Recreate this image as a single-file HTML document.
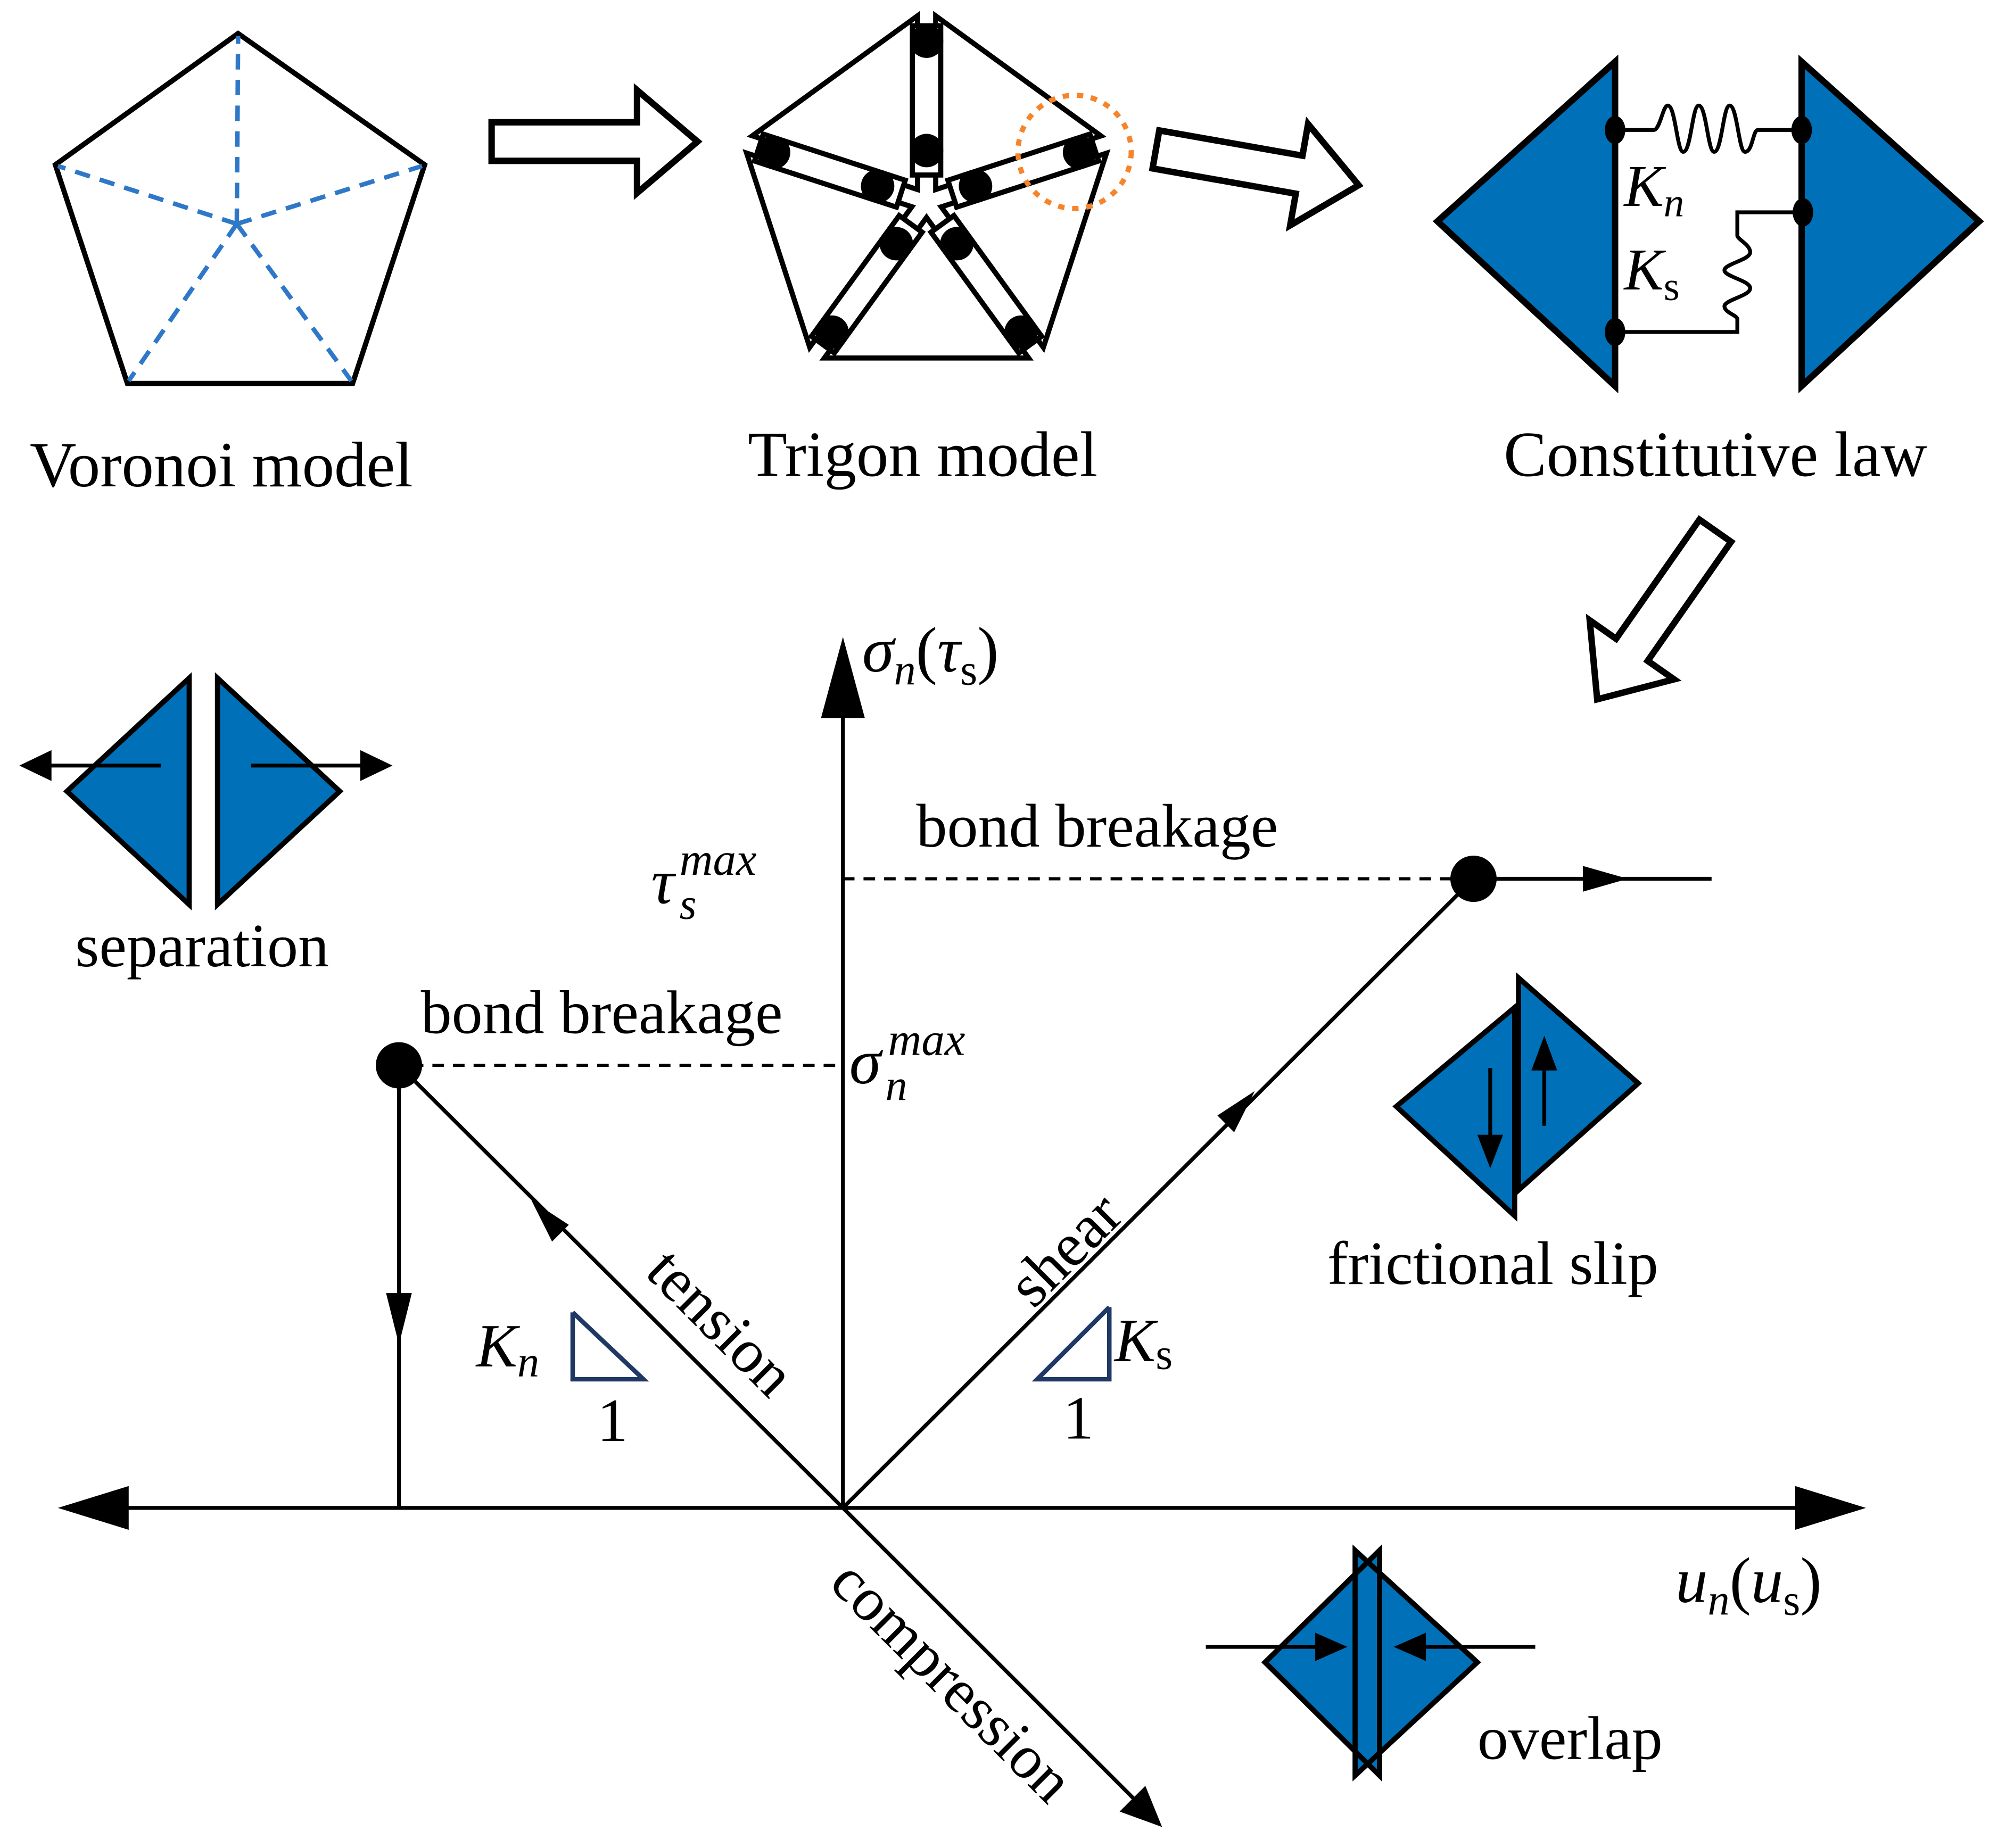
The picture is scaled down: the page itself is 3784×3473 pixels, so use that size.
<!DOCTYPE html>
<html><head><meta charset="utf-8"><style>html,body{margin:0;padding:0;background:#fff}svg{display:block}text{font-family:"Liberation Serif",serif}.i{font-style:italic}</style></head><body>
<svg width="3784" height="3473" viewBox="0 0 1565 1436.3" xmlns="http://www.w3.org/2000/svg">
<defs>
<polygon id="ba" points="-80,-15 33,-15 33,-40 80,0 33,40 33,15 -80,15" fill="#fff" stroke="#000" stroke-width="5" stroke-linejoin="miter"/>
<g id="spoke"><polygon points="725.1,155.3 725.1,20.3 853.5,113.6" fill="#fff" stroke="#000" stroke-width="4"/></g>
<g id="bar"><rect x="707" y="28" width="22" height="116" fill="#fff" stroke="#000" stroke-width="4"/><circle cx="718" cy="40" r="13"/><circle cx="718" cy="125" r="13"/></g>
</defs>
<!-- Voronoi -->
<polygon points="185,26 330,128 274,298 99,298 43,128" fill="none" stroke="#000" stroke-width="4"/>
<g stroke="#2f78c8" stroke-width="3.5" stroke-dasharray="12,8" fill="none">
<line x1="184" y1="174" x2="185" y2="28"/><line x1="184" y1="174" x2="328" y2="129"/><line x1="184" y1="174" x2="273" y2="296"/><line x1="184" y1="174" x2="100" y2="296"/><line x1="184" y1="174" x2="45" y2="129"/></g>
<text x="172" y="378" font-size="50" text-anchor="middle">Voronoi model</text>
<use href="#ba" transform="translate(462,110)"/>
<!-- Trigon -->
<g transform="translate(2,-8)">
<use href="#spoke"/><use href="#spoke" transform="rotate(72 718 165)"/><use href="#spoke" transform="rotate(144 718 165)"/><use href="#spoke" transform="rotate(216 718 165)"/><use href="#spoke" transform="rotate(288 718 165)"/>
<use href="#bar"/><use href="#bar" transform="rotate(72 718 165)"/><use href="#bar" transform="rotate(144 718 165)"/><use href="#bar" transform="rotate(216 718 165)"/><use href="#bar" transform="rotate(288 718 165)"/>
</g>
<circle cx="835" cy="118" r="44" fill="none" stroke="#f5842a" stroke-width="4" stroke-dasharray="5,6"/>
<text x="717" y="370" font-size="50" text-anchor="middle">Trigon model</text>
<use href="#ba" transform="translate(977,130) rotate(10)"/>
<!-- Constitutive -->
<polygon points="1255,48 1255,300 1117,172" fill="#0071b8" stroke="#000" stroke-width="5"/>
<polygon points="1400,48 1400,300 1538,172" fill="#0071b8" stroke="#000" stroke-width="5"/>
<path d="M1255,101 H1285 C1290,101 1292,82 1296,82 C1302,82 1303,118 1308,118 C1314,118 1315,82 1320,82 C1326,82 1327,118 1332,118 C1338,118 1339,82 1344,82 C1350,82 1351,118 1356,118 C1362,118 1362,101 1366,101 H1400" fill="none" stroke="#000" stroke-width="3"/>
<path d="M1400,165 H1350 V183 C1350,186 1360,190 1360,196 C1360,202 1340,205 1340,210 C1340,215 1360,218 1360,224 C1360,230 1340,233 1340,238 C1340,243 1350,245 1350,248 V258 H1255" fill="none" stroke="#000" stroke-width="3"/>
<ellipse cx="1255" cy="101" rx="8" ry="11"/><ellipse cx="1400" cy="101" rx="8" ry="11"/><ellipse cx="1401" cy="165" rx="8" ry="11"/><ellipse cx="1255" cy="258" rx="8" ry="11"/>
<text x="1262" y="160" font-size="46" class="i">K<tspan font-size="32" dy="8">n</tspan></text>
<text x="1262" y="225" font-size="46" class="i">K<tspan font-size="32" dy="8" font-style="normal">s</tspan></text>
<text x="1333" y="370" font-size="50" text-anchor="middle">Constitutive law</text>
<use href="#ba" transform="translate(1287,478) rotate(125)"/>
<!-- Axes -->
<g stroke="#000" stroke-width="3" fill="none">
<line x1="80" y1="1172" x2="1410" y2="1172"/>
<line x1="655" y1="1172" x2="655" y2="550"/>
<line x1="655" y1="1172" x2="1145" y2="683"/>
<line x1="1145" y1="683" x2="1330" y2="683"/>
<line x1="655" y1="1172" x2="310" y2="828"/>
<line x1="310" y1="828" x2="310" y2="1172"/>
<line x1="655" y1="1172" x2="885" y2="1402"/>
<line x1="655" y1="683" x2="1140" y2="683" stroke-dasharray="9,7" stroke-width="2.5"/>
<line x1="320" y1="828" x2="650" y2="828" stroke-dasharray="9,7" stroke-width="2.5"/>
</g>
<polygon points="45,1172 100,1155 100,1189"/>
<polygon points="1450,1172 1395,1155 1395,1189"/>
<polygon points="655,495 638,558 672,558"/>
<polygon points="1265,683 1230,673 1230,693"/>
<polygon points="903,1420 870,1408 890,1388"/>
<polygon points="975,848 946,867 959,880" />
<polygon points="413,933 442,952 429,965"/>
<polygon points="310,1045 300,1005 320,1005"/>
<circle cx="1145" cy="683" r="18"/><circle cx="310" cy="828" r="18"/>
<text x="670" y="522" font-size="50" class="i">σ<tspan font-size="34" dy="10">n</tspan><tspan dy="-10" font-style="normal">(</tspan>τ<tspan font-size="34" dy="10" font-style="normal">s</tspan><tspan dy="-10" font-style="normal">)</tspan></text>
<text x="506" y="702" font-size="50" class="i">τ</text><text x="528" y="714" font-size="34" class="i">s</text><text x="528" y="680" font-size="36" class="i">max</text>
<text x="660" y="842" font-size="50" class="i">σ</text><text x="688" y="855" font-size="34" class="i">n</text><text x="690" y="820" font-size="36" class="i">max</text>
<text x="712" y="658" font-size="48">bond breakage</text>
<text x="327" y="803" font-size="48">bond breakage</text>
<text x="0" y="0" font-size="48" transform="translate(500,990) rotate(45)">tension</text>
<text x="0" y="0" font-size="48" transform="translate(803,1018) rotate(-45)">shear</text>
<text x="0" y="0" font-size="48" transform="translate(643,1232) rotate(45)">compression</text>
<polyline points="445,1020 445,1072 500,1072 445,1020" fill="none" stroke="#1f3864" stroke-width="3.5"/>
<polyline points="862,1016 862,1072 806,1072 862,1016" fill="none" stroke="#1f3864" stroke-width="3.5"/>
<text x="370" y="1062" font-size="48" class="i">K<tspan font-size="34" dy="8">n</tspan></text>
<text x="464" y="1120" font-size="48">1</text>
<text x="866" y="1058" font-size="48" class="i">K<tspan font-size="34" dy="6" font-style="normal">s</tspan></text>
<text x="826" y="1118" font-size="48">1</text>
<text x="1302" y="1245" font-size="50" class="i">u<tspan font-size="34" dy="10">n</tspan><tspan dy="-10" font-style="normal">(</tspan>u<tspan font-size="34" dy="10" font-style="normal">s</tspan><tspan dy="-10" font-style="normal">)</tspan></text>
<!-- separation -->
<polygon points="147,527 147,703 52,615" fill="#0071b8" stroke="#000" stroke-width="4"/>
<polygon points="169,527 169,703 264,615" fill="#0071b8" stroke="#000" stroke-width="4"/>
<g stroke="#000" stroke-width="3"><line x1="125" y1="595" x2="30" y2="595"/><line x1="195" y1="595" x2="292" y2="595"/></g>
<polygon points="15,595 40,583 40,607"/><polygon points="305,595 280,583 280,607"/>
<text x="157" y="751" font-size="48" text-anchor="middle">separation</text>
<!-- frictional slip -->
<polygon points="1177,783 1177,945 1085,860" fill="#0071b8" stroke="#000" stroke-width="4"/>
<polygon points="1180,760 1180,925 1273,842" fill="#0071b8" stroke="#000" stroke-width="4"/>
<g stroke="#000" stroke-width="3"><line x1="1158" y1="830" x2="1158" y2="890"/><line x1="1200" y1="875" x2="1200" y2="822"/></g>
<polygon points="1158,908 1148,882 1168,882"/><polygon points="1200,805 1190,832 1210,832"/>
<text x="1160" y="998" font-size="48" text-anchor="middle">frictional slip</text>
<!-- overlap -->
<polygon points="1072,1205 1072,1380 983,1292" fill="#0071b8" stroke="#000" stroke-width="4"/>
<polygon points="1053,1205 1053,1380 1148,1292" fill="#0071b8" stroke="#000" stroke-width="4"/>
<polygon points="1072,1205 1072,1380 983,1292" fill="none" stroke="#000" stroke-width="4"/>
<g stroke="#000" stroke-width="3"><line x1="937" y1="1280" x2="1030" y2="1280"/><line x1="1193" y1="1280" x2="1100" y2="1280"/></g>
<polygon points="1047,1280 1022,1269 1022,1291"/><polygon points="1083,1280 1108,1269 1108,1291"/>
<text x="1220" y="1367" font-size="48" text-anchor="middle">overlap</text>
</svg>
</body></html>
